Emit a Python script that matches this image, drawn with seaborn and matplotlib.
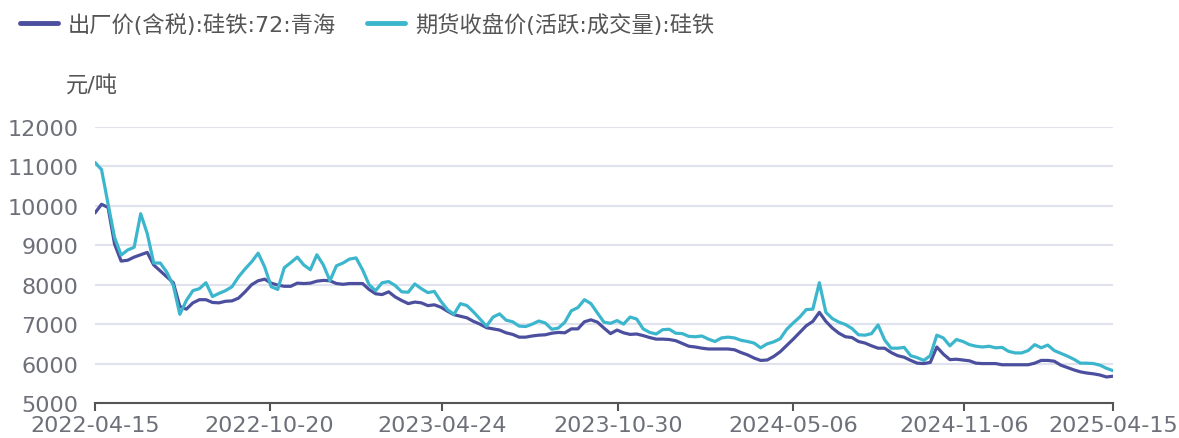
import numpy as np
import pandas as pd
import matplotlib
matplotlib.use("Agg")
import matplotlib.pyplot as plt
import seaborn as sns

# series names (legend)
series_names = ["出厂价(含税):硅铁:72:青海", "期货收盘价(活跃:成交量):硅铁"]
unit_label = "元/吨"

# weekly sample points
start_date = "2022-04-15"
end_date = "2025-04-15"
n_points = 157

spot_price = [
    9820, 10040, 9960, 9030, 8600, 8620, 8700, 8760, 8820, 8500,
    8350, 8200, 8050, 7450, 7380, 7540, 7620, 7620, 7550, 7540,
    7580, 7590, 7660, 7820, 8000, 8100, 8140, 8040, 7990, 7960,
    7960, 8040, 8030, 8040, 8090, 8110, 8100, 8030, 8010, 8030,
    8030, 8030, 7880, 7770, 7750, 7820, 7690, 7600, 7520, 7560,
    7540, 7470, 7490, 7430, 7330, 7240, 7200, 7160, 7070, 7000,
    6910, 6880, 6850, 6780, 6740, 6670, 6670, 6700, 6720, 6730,
    6770, 6790, 6780, 6880, 6880, 7060, 7110, 7050, 6900, 6760,
    6850, 6780, 6740, 6750, 6710, 6660, 6620, 6620, 6610, 6580,
    6510, 6440, 6420, 6390, 6370, 6370, 6370, 6370, 6350, 6280,
    6220, 6140, 6080, 6090, 6180, 6300, 6460, 6620, 6790, 6960,
    7070, 7300, 7070, 6900, 6770, 6680, 6660, 6560, 6520, 6450,
    6390, 6390, 6280, 6200, 6160, 6080, 6010, 6000, 6030, 6420,
    6240, 6100, 6110, 6090, 6070, 6010, 6000, 6000, 6000, 5970,
    5970, 5970, 5970, 5970, 6010, 6080, 6080, 6060, 5960, 5900,
    5840, 5790, 5760, 5740, 5710, 5660, 5680,
]

futures_price = [
    11100, 10920, 10050, 9200, 8750, 8880, 8950, 9800, 9300, 8550,
    8550, 8320, 7980, 7250, 7600, 7850, 7900, 8050, 7700, 7780,
    7850, 7950, 8200, 8400, 8580, 8800, 8450, 7950, 7880, 8430,
    8560, 8700, 8500, 8380, 8760, 8500, 8100, 8480, 8550, 8650,
    8680, 8380, 8000, 7850, 8050, 8080, 7980, 7820, 7810, 8020,
    7900, 7800, 7830, 7580, 7370, 7250, 7520, 7470, 7310, 7130,
    6950, 7180, 7260, 7100, 7060, 6950, 6940, 7000, 7080, 7030,
    6870, 6900, 7050, 7340, 7420, 7620, 7520, 7280, 7050, 7020,
    7090, 7000, 7180, 7130, 6880, 6790, 6750, 6860, 6870, 6770,
    6760, 6690, 6680, 6700, 6620, 6560, 6650, 6670, 6650, 6590,
    6560, 6520, 6400, 6500, 6550, 6630, 6870, 7030, 7180, 7370,
    7380, 8050, 7300, 7140, 7050, 6990, 6890, 6730, 6720, 6760,
    6980, 6600, 6390, 6390, 6410, 6200, 6150, 6080, 6200, 6720,
    6650, 6450, 6610, 6560, 6480, 6440, 6420, 6440, 6400, 6410,
    6310, 6270, 6270, 6330, 6480, 6400, 6470, 6330, 6260, 6190,
    6110, 6010, 6010, 6000, 5960, 5880, 5820,
]

tick_dates = ["2022-04-15", "2022-10-20", "2023-04-24", "2023-10-30",
              "2024-05-06", "2024-11-06", "2025-04-15"]
y_ticks = [5000, 6000, 7000, 8000, 9000, 10000, 11000, 12000]

dates = pd.date_range(start_date, end_date, periods=n_points)
df = pd.DataFrame({
    "date": list(dates) + list(dates),
    "price": spot_price + futures_price,
    "series": [series_names[0]] * n_points + [series_names[1]] * n_points,
})

sns.set_style("white")
plt.rcParams["font.family"] = ["DejaVu Sans", "Noto Sans CJK SC"]

W, H = 1179, 439
fig = plt.figure(figsize=(W / 100, H / 100), dpi=100)
ax = fig.add_axes([95 / W, 1 - 404 / H, (1113 - 95) / W, (404 - 128) / H])

colors = ["#4b4f9e", "#3cb6cc"]
sns.lineplot(data=df, x="date", y="price", hue="series", palette=colors,
             linewidth=2.3, ax=ax, legend=False)

ax.set_xlim(pd.Timestamp(start_date), pd.Timestamp(end_date))
ax.set_ylim(5000, 12000)
ax.set_yticks(y_ticks)
ax.set_xticks(pd.to_datetime(tick_dates))
ax.set_xticklabels(tick_dates)
ax.set_xlabel("")
ax.set_ylabel("")

gray = "#6e7079"
ax.tick_params(axis="y", left=False, length=0, pad=12, labelsize=16,
               labelcolor=gray)
ax.tick_params(axis="x", bottom=True, direction="out", length=6, width=1.5,
               color="#555555", pad=3, labelsize=16, labelcolor=gray)

ax.yaxis.grid(True, color="#e0e3ee", linewidth=1.5)
ax.xaxis.grid(False)
ax.set_axisbelow(True)
for side in ["top", "right", "left"]:
    ax.spines[side].set_visible(False)
ax.spines["bottom"].set_color("#555555")
ax.spines["bottom"].set_linewidth(1.5)

fig.legend(ax.lines[:2], series_names, loc="upper left",
           bbox_to_anchor=(20 / W, 1 - 14 / H), ncol=2, frameon=False,
           borderpad=0, borderaxespad=0, handlelength=1.7,
           handletextpad=0.45, columnspacing=1.4,
           prop={"size": 16}, labelcolor="#555555")
for h in fig.legends[0].legend_handles:
    h.set_linewidth(3.5)

fig.text(66 / W, 1 - 85 / H, unit_label, fontsize=16, color="#555555",
         va="center", ha="left")

fig.savefig("out.png", dpi=100)
